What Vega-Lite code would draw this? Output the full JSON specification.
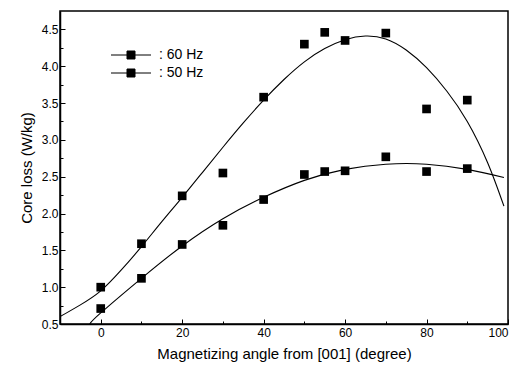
{
  "$schema": "https://vega.github.io/schema/vega-lite/v6.json",
  "width": 448,
  "height": 313,
  "autosize": "none",
  "padding": {"left": 60, "top": 11, "right": 7, "bottom": 43},
  "background": "white",
  "config": {
    "view": {"stroke": "black", "strokeWidth": 1.5},
    "font": "Liberation Sans",
    "axis": {"labelColor": "black", "titleColor": "black", "domainColor": "black", "tickColor": "black", "grid": false, "labelFontSize": 12, "titleFontSize": 15, "titleFontWeight": "normal"}
  },
  "datasets": {
    "pts": [
      {"angle": 0, "loss": 1.0, "series": "60 Hz"},
      {"angle": 10, "loss": 1.59, "series": "60 Hz"},
      {"angle": 20, "loss": 2.24, "series": "60 Hz"},
      {"angle": 30, "loss": 2.55, "series": "60 Hz"},
      {"angle": 40, "loss": 3.58, "series": "60 Hz"},
      {"angle": 50, "loss": 4.30, "series": "60 Hz"},
      {"angle": 55, "loss": 4.46, "series": "60 Hz"},
      {"angle": 60, "loss": 4.35, "series": "60 Hz"},
      {"angle": 70, "loss": 4.45, "series": "60 Hz"},
      {"angle": 80, "loss": 3.42, "series": "60 Hz"},
      {"angle": 90, "loss": 3.54, "series": "60 Hz"},
      {"angle": 0, "loss": 0.71, "series": "50 Hz"},
      {"angle": 10, "loss": 1.12, "series": "50 Hz"},
      {"angle": 20, "loss": 1.58, "series": "50 Hz"},
      {"angle": 30, "loss": 1.84, "series": "50 Hz"},
      {"angle": 40, "loss": 2.19, "series": "50 Hz"},
      {"angle": 50, "loss": 2.53, "series": "50 Hz"},
      {"angle": 55, "loss": 2.57, "series": "50 Hz"},
      {"angle": 60, "loss": 2.58, "series": "50 Hz"},
      {"angle": 70, "loss": 2.77, "series": "50 Hz"},
      {"angle": 80, "loss": 2.57, "series": "50 Hz"},
      {"angle": 90, "loss": 2.61, "series": "50 Hz"}
    ],
    "fit": [
      {"angle": -10, "loss": 0.60, "series": "60 Hz"},
      {"angle": -5, "loss": 0.76, "series": "60 Hz"},
      {"angle": 0, "loss": 0.95, "series": "60 Hz"},
      {"angle": 5, "loss": 1.23, "series": "60 Hz"},
      {"angle": 10, "loss": 1.55, "series": "60 Hz"},
      {"angle": 15, "loss": 1.89, "series": "60 Hz"},
      {"angle": 20, "loss": 2.22, "series": "60 Hz"},
      {"angle": 25, "loss": 2.56, "series": "60 Hz"},
      {"angle": 30, "loss": 2.90, "series": "60 Hz"},
      {"angle": 35, "loss": 3.23, "series": "60 Hz"},
      {"angle": 40, "loss": 3.54, "series": "60 Hz"},
      {"angle": 45, "loss": 3.82, "series": "60 Hz"},
      {"angle": 50, "loss": 4.06, "series": "60 Hz"},
      {"angle": 55, "loss": 4.24, "series": "60 Hz"},
      {"angle": 60, "loss": 4.36, "series": "60 Hz"},
      {"angle": 65, "loss": 4.41, "series": "60 Hz"},
      {"angle": 70, "loss": 4.37, "series": "60 Hz"},
      {"angle": 75, "loss": 4.22, "series": "60 Hz"},
      {"angle": 80, "loss": 3.98, "series": "60 Hz"},
      {"angle": 85, "loss": 3.66, "series": "60 Hz"},
      {"angle": 90, "loss": 3.25, "series": "60 Hz"},
      {"angle": 95, "loss": 2.69, "series": "60 Hz"},
      {"angle": 99, "loss": 2.10, "series": "60 Hz"},
      {"angle": -2.7, "loss": 0.50, "series": "50 Hz"},
      {"angle": 0, "loss": 0.65, "series": "50 Hz"},
      {"angle": 10, "loss": 1.12, "series": "50 Hz"},
      {"angle": 20, "loss": 1.56, "series": "50 Hz"},
      {"angle": 30, "loss": 1.93, "series": "50 Hz"},
      {"angle": 40, "loss": 2.22, "series": "50 Hz"},
      {"angle": 50, "loss": 2.45, "series": "50 Hz"},
      {"angle": 60, "loss": 2.60, "series": "50 Hz"},
      {"angle": 70, "loss": 2.67, "series": "50 Hz"},
      {"angle": 80, "loss": 2.67, "series": "50 Hz"},
      {"angle": 90, "loss": 2.60, "series": "50 Hz"},
      {"angle": 99, "loss": 2.49, "series": "50 Hz"}
    ]
  },
  "resolve": {"axis": {"x": "independent", "y": "independent"}},
  "layer": [
    {
      "data": {"name": "fit"},
      "mark": {"type": "line", "color": "black", "strokeWidth": 1.1, "interpolate": "natural", "clip": true},
      "encoding": {
        "x": {"field": "angle", "type": "quantitative", "scale": {"domain": [-10, 100], "nice": false},
          "axis": {"orient": "bottom", "title": "Magnetizing angle from [001] (degree)", "values": [0, 20, 40, 60, 80, 100], "tickSize": -5, "labelPadding": 8, "titlePadding": 8, "domainWidth": 1.5}},
        "y": {"field": "loss", "type": "quantitative", "scale": {"domain": [0.5, 4.75], "nice": false, "zero": false},
          "axis": {"orient": "left", "title": "Core loss (W/kg)", "values": [0.5, 1.0, 1.5, 2.0, 2.5, 3.0, 3.5, 4.0, 4.5], "format": ".1f", "tickSize": -5, "labelPadding": 7, "titlePadding": 7, "domainWidth": 1.5}},
        "detail": {"field": "series"}
      }
    },
    {
      "data": {"name": "pts"},
      "mark": {"type": "point", "shape": "square", "filled": true, "size": 75, "opacity": 1},
      "encoding": {
        "x": {"field": "angle", "type": "quantitative",
          "axis": {"orient": "bottom", "title": null, "labels": false, "values": [-10, 10, 30, 50, 70, 90], "tickSize": -3, "domain": false}},
        "y": {"field": "loss", "type": "quantitative",
          "axis": {"orient": "left", "title": null, "labels": false, "values": [0.75, 1.25, 1.75, 2.25, 2.75, 3.25, 3.75, 4.25], "tickSize": -3, "domain": false}},
        "color": {"field": "series", "type": "nominal",
          "scale": {"domain": ["60 Hz", "50 Hz"], "range": ["black", "black"]},
          "legend": {"orient": "none", "legendX": 64, "legendY": 37, "title": null, "padding": 0,
            "symbolType": "M-5,0H5M-1,-1H1V1H-1Z", "symbolSize": 64, "symbolStrokeWidth": 1, "symbolStrokeColor": "black", "symbolFillColor": "black",
            "labelOffset": 21, "labelExpr": "': ' + datum.label", "labelFontSize": 14, "labelColor": "black", "rowPadding": 4}}
      }
    }
  ]
}
